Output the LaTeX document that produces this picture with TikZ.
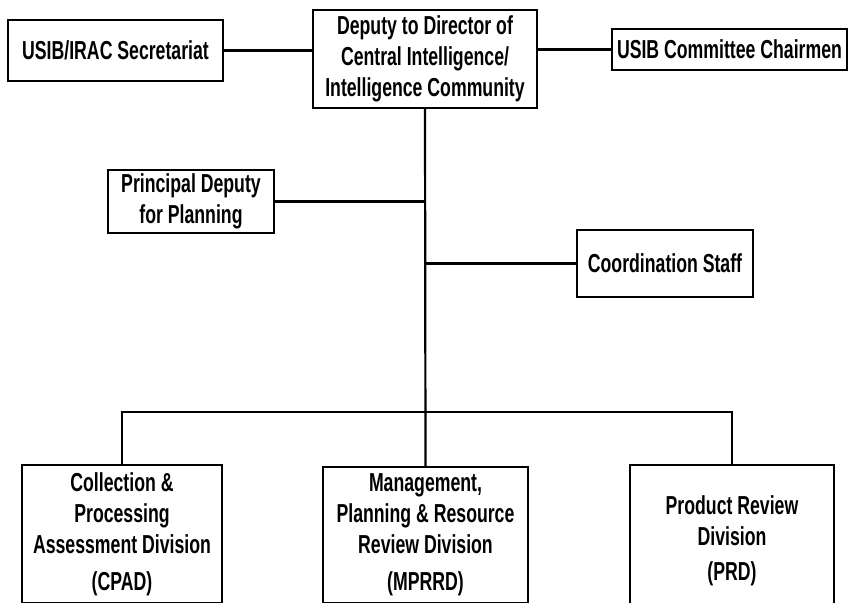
\documentclass[tikz,border=0pt]{standalone}
\usepackage{fontspec}
\setmainfont{Liberation Sans}[FakeStretch=0.68]
\begin{document}
\begin{tikzpicture}[x=1pt,y=-1pt,
  box/.style={draw=black, line width=2.4pt, rectangle, inner sep=2pt, align=center,
    font=\bfseries\fontsize{26}{31}\selectfont},
  link/.style={draw=black, line width=2.2pt}]
\useasboundingbox[fill=white] (0,0) rectangle (850,602);
% top row
\node[box, minimum width=224pt, minimum height=98pt] (top) at (425,59)
  {Deputy to Director of\\Central Intelligence/\\Intelligence Community};
\node[box, minimum width=215pt, minimum height=61pt] (usib) at (115.5,50.5)
  {USIB/IRAC Secretariat};
\node[box, minimum width=235pt, minimum height=41pt] (comm) at (729.5,49.5)
  {USIB Committee Chairmen};
% staff
\node[box, minimum width=166pt, minimum height=63pt] (pdp) at (191,201.5)
  {Principal Deputy\\for Planning};
\node[box, minimum width=176pt, minimum height=67pt] (coord) at (665,263.5)
  {Coordination Staff};
% divisions
\node[box, minimum width=200pt, minimum height=138pt] (cpad) at (122,534)
  {Collection \&\\Processing\\Assessment Division\\[6pt](CPAD)};
\node[box, minimum width=205pt, minimum height=136pt] (mprrd) at (425.5,535)
  {Management,\\Planning \& Resource\\Review Division\\[6pt](MPRRD)};
\node[box, minimum width=204pt, minimum height=152pt] (prd) at (732,541)
  {Product Review\\Division\\[4pt](PRD)};
\coordinate (bar) at (425,412);
% connectors
\draw[link] (usib.east) -- (usib.east -| top.west);
\draw[link] (top.east |- comm.west) -- (comm.west);
\draw[link] (top.south) -- (mprrd.north);
\draw[link] (pdp.east) -- (pdp.east -| top.south);
\draw[link] (coord.west) -- (coord.west -| top.south);
\draw[link] (cpad.north) |- (bar) -| (prd.north);
\end{tikzpicture}
\end{document}
